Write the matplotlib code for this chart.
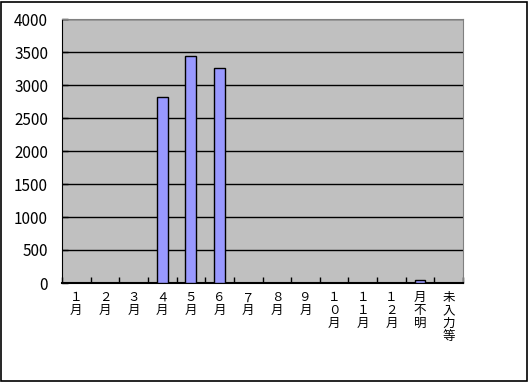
import numpy as np
import matplotlib
matplotlib.use('Agg')
import matplotlib.pyplot as plt

plt.rcParams['font.family'] = ['Noto Sans CJK JP', 'DejaVu Sans']

# data
months = ['１\n月', '２\n月', '３\n月', '４\n月', '５\n月', '６\n月', '７\n月', '８\n月', '９\n月',
          '１\n０\n月', '１\n１\n月', '１\n２\n月', '月\n不\n明', '未\n入\n力\n等']
counts = [0, 0, 0, 2815, 3440, 3258, 0, 0, 0, 0, 0, 0, 45, 0]
yticks = [0, 500, 1000, 1500, 2000, 2500, 3000, 3500, 4000]

fig = plt.figure(figsize=(5.28, 3.82), dpi=100)
fig.patch.set_facecolor('white')
ax = fig.add_axes([62/528, 1-283/382, 401/528, 264/382])
ax.set_facecolor('#C0C0C0')

x = np.arange(len(months))
ax.bar(x, counts, width=0.38, color='#9999FF', edgecolor='black', linewidth=1, zorder=3)

ax.set_ylim(0, 4000)
ax.set_yticks(yticks)
ax.set_yticklabels([str(v) for v in yticks], fontsize=11)
ax.yaxis.grid(True, color='black', linewidth=1, zorder=1)
ax.set_xlim(-0.5, len(months) - 0.5)
ax.set_xticks(x)
ax.set_xticklabels(months, fontsize=9, linespacing=1.0, va='top')
ax.set_xticks(np.arange(-0.5, len(months)), minor=True)
ax.tick_params(axis='x', which='major', length=0, pad=6)
ax.tick_params(axis='x', which='minor', direction='in', length=4, width=1)
ax.tick_params(axis='y', direction='in', length=4, width=1, pad=10)

ax.spines['left'].set_color('black')
ax.spines['bottom'].set_color('black')
ax.spines['bottom'].set_linewidth(1.5)
ax.spines['top'].set_color('#808080')
ax.spines['right'].set_color('#808080')

# outer frame
fig.add_artist(plt.Rectangle((0.5/528, 1.5/382), 526/528, 379/382, transform=fig.transFigure,
                             fill=False, edgecolor='black', linewidth=1.2))

fig.savefig('out.png', dpi=100)
